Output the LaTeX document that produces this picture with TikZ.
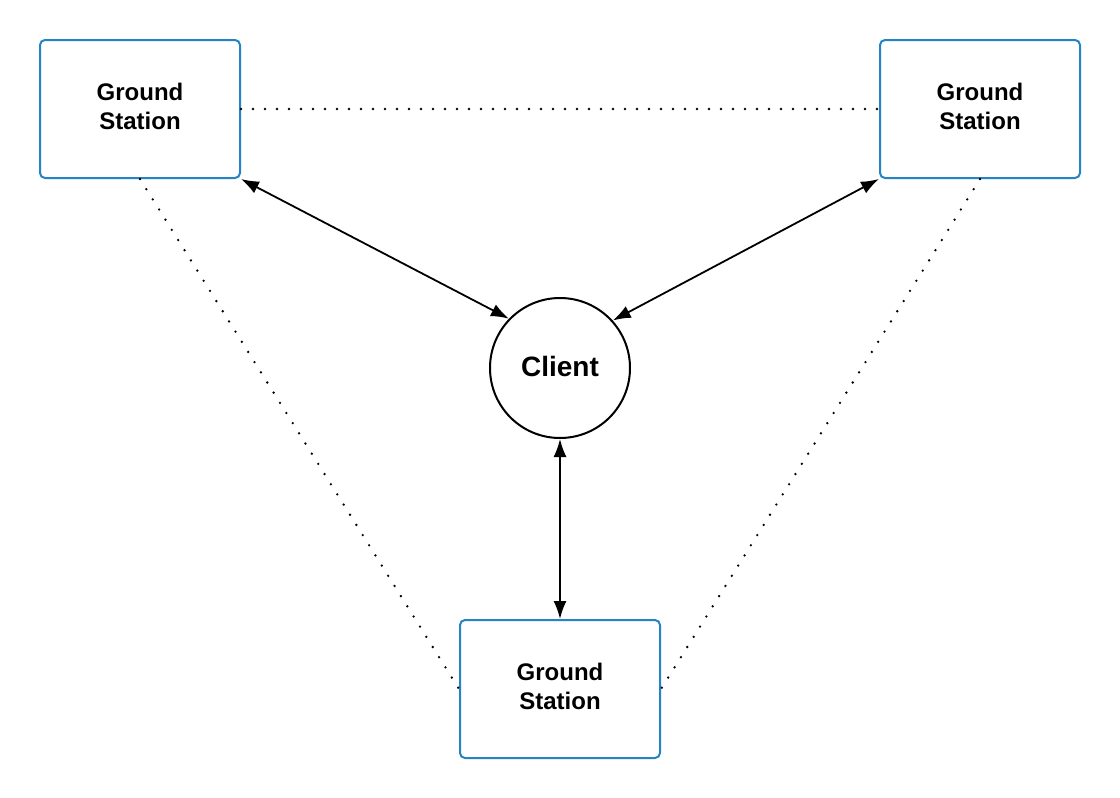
\documentclass[tikz,border=0pt]{standalone}
\usepackage{fontspec}
\setmainfont{Liberation Sans}
\usetikzlibrary{arrows.meta}
\definecolor{gsblue}{RGB}{36,132,198}
\begin{document}
\begin{tikzpicture}[x=1pt,y=-1pt,
  station/.style={draw=gsblue, line width=2pt, rounded corners=5pt, minimum width=200pt, minimum height=138pt, inner sep=0pt, fill=white},
  stationtext/.style={align=center, font=\fontsize{24}{29}\selectfont\bfseries},
  client/.style={draw=black, line width=2pt, circle, minimum size=140pt, inner sep=0pt},
  clienttext/.style={font=\fontsize{28}{34}\selectfont\bfseries},
  link/.style={line width=1.8pt, {Latex[length=18pt,width=13pt]}-{Latex[length=18pt,width=13pt]}},
  dotline/.style={line width=2.6pt, line cap=round, dash pattern=on 0pt off 12pt}]
\useasboundingbox (0,0) rectangle (1120,798);
\fill[white] (0,0) rectangle (1120,798);
\node[station] (tl) at (140,109) {};
\node[station] (tr) at (980,109) {};
\node[station] (bt) at (560,689) {};
\node[stationtext] (tlt) at (140,106) {Ground\\Station};
\node[stationtext] (trt) at (980,106) {Ground\\Station};
\node[stationtext] (btt) at (560,686) {Ground\\Station};
\node[client] (c) at (560,368) {};
\node[clienttext] (ct) at (560,366) {Client};
\draw[dotline] (tl.east) -- (tr.west);
\draw[dotline] (tl.south) -- (bt.west);
\draw[dotline] (tr.south) -- (bt.east);
\draw[link] (tl.south east) -- (c.136);
\draw[link] (tr.south west) -- (c.42);
\draw[link] (c.south) -- (bt.north);
\end{tikzpicture}
\end{document}
